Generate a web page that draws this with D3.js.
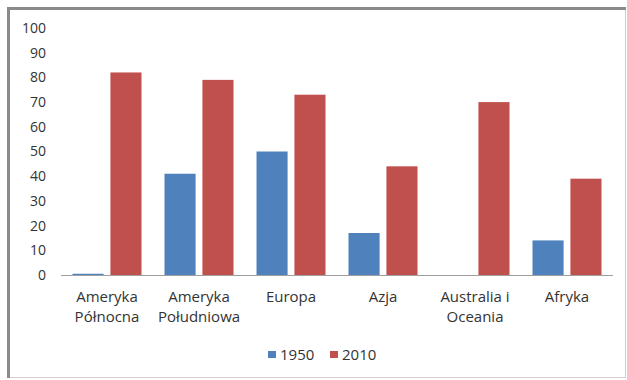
<!doctype html>
<html>
<head>
<meta charset="utf-8">
<script src="https://d3js.org/d3.v7.min.js"></script>
<style>
    body { margin: 0; background: #fff; }
    svg text { font-family: "Open Sans", "Liberation Sans", sans-serif; fill: #333; }
</style>
</head>
<body>
<svg id="chart" width="627" height="380"></svg>
<script>
var categories = [["Ameryka", "Północna"], ["Ameryka", "Południowa"], ["Europa"], ["Azja"], ["Australia i", "Oceania"], ["Afryka"]];
var series = ["1950", "2010"];
var values1950 = [0.5, 41, 50, 17, 0, 14];
var values2010 = [82, 79, 73, 44, 70, 39];
var yTicks = [0, 10, 20, 30, 40, 50, 60, 70, 80, 90, 100];
var colors = ["#4f81bd", "#c0504d"];

var svg = d3.select("#chart");

// frame
svg.append("rect").attr("x", 8.5).attr("y", 8.5).attr("width", 617).attr("height", 369)
    .attr("fill", "#fff").attr("stroke", "#d0d0d0");
svg.append("line").attr("x1", 7).attr("x2", 626).attr("y1", 8.5).attr("y2", 8.5)
    .attr("stroke", "#8a8a8a").attr("stroke-width", 3);
svg.append("line").attr("x1", 8.5).attr("x2", 8.5).attr("y1", 7).attr("y2", 378)
    .attr("stroke", "#8a8a8a").attr("stroke-width", 3);

var x0 = d3.scaleBand().domain(d3.range(categories.length)).range([61, 613]).paddingInner(0.25).paddingOuter(0.125);
var x1 = d3.scaleBand().domain(series).range([0, x0.bandwidth()]).paddingInner(0.18);
var y = d3.scaleLinear().domain([0, 100]).range([275, 28]);

// y axis labels
var yAxis = svg.append("g").attr("transform", "translate(46,0)")
    .call(d3.axisLeft(y).tickValues(yTicks).tickSize(0).tickPadding(0));
yAxis.select(".domain").remove();
yAxis.selectAll("text").attr("font-size", 14).attr("fill", "#333")
    .style("font-family", "'Open Sans', 'Liberation Sans', sans-serif");

// bars
var data = categories.map(function(c, i) { return [values1950[i], values2010[i]]; });
var groups = svg.selectAll(".grp").data(data).enter().append("g")
    .attr("transform", function(d, i) { return "translate(" + x0(i) + ",0)"; });
groups.selectAll("rect").data(function(d) { return d; }).enter().append("rect")
    .attr("x", function(d, j) { return x1(series[j]); })
    .attr("width", x1.bandwidth())
    .attr("y", function(d) { return y(d); })
    .attr("height", function(d) { return y(0) - y(d); })
    .attr("fill", function(d, j) { return colors[j]; });

// x axis
svg.append("line").attr("x1", 61).attr("x2", 613).attr("y1", y(0) + 0.5).attr("y2", y(0) + 0.5)
    .attr("stroke", "#a0a0a0");
var xc = function(i) { return x0(i) + x0.bandwidth() / 2; };
svg.selectAll(".xl").data(categories).enter().append("text")
    .attr("text-anchor", "middle").attr("font-size", 15)
    .attr("x", function(d, i) { return xc(i); })
    .attr("y", 302)
    .each(function(d) {
        var t = d3.select(this);
        d.forEach(function(line, k) {
            t.append("tspan").attr("x", t.attr("x")).attr("dy", k === 0 ? 0 : 20).text(line);
        });
    });

// legend
var legendX = [268, 330];
series.forEach(function(s, j) {
    svg.append("rect").attr("x", legendX[j]).attr("y", 351).attr("width", 8).attr("height", 7)
        .attr("fill", colors[j]);
    svg.append("text").attr("x", legendX[j] + 12).attr("y", 360).attr("font-size", 15).text(s);
});
</script>
</body>
</html>
